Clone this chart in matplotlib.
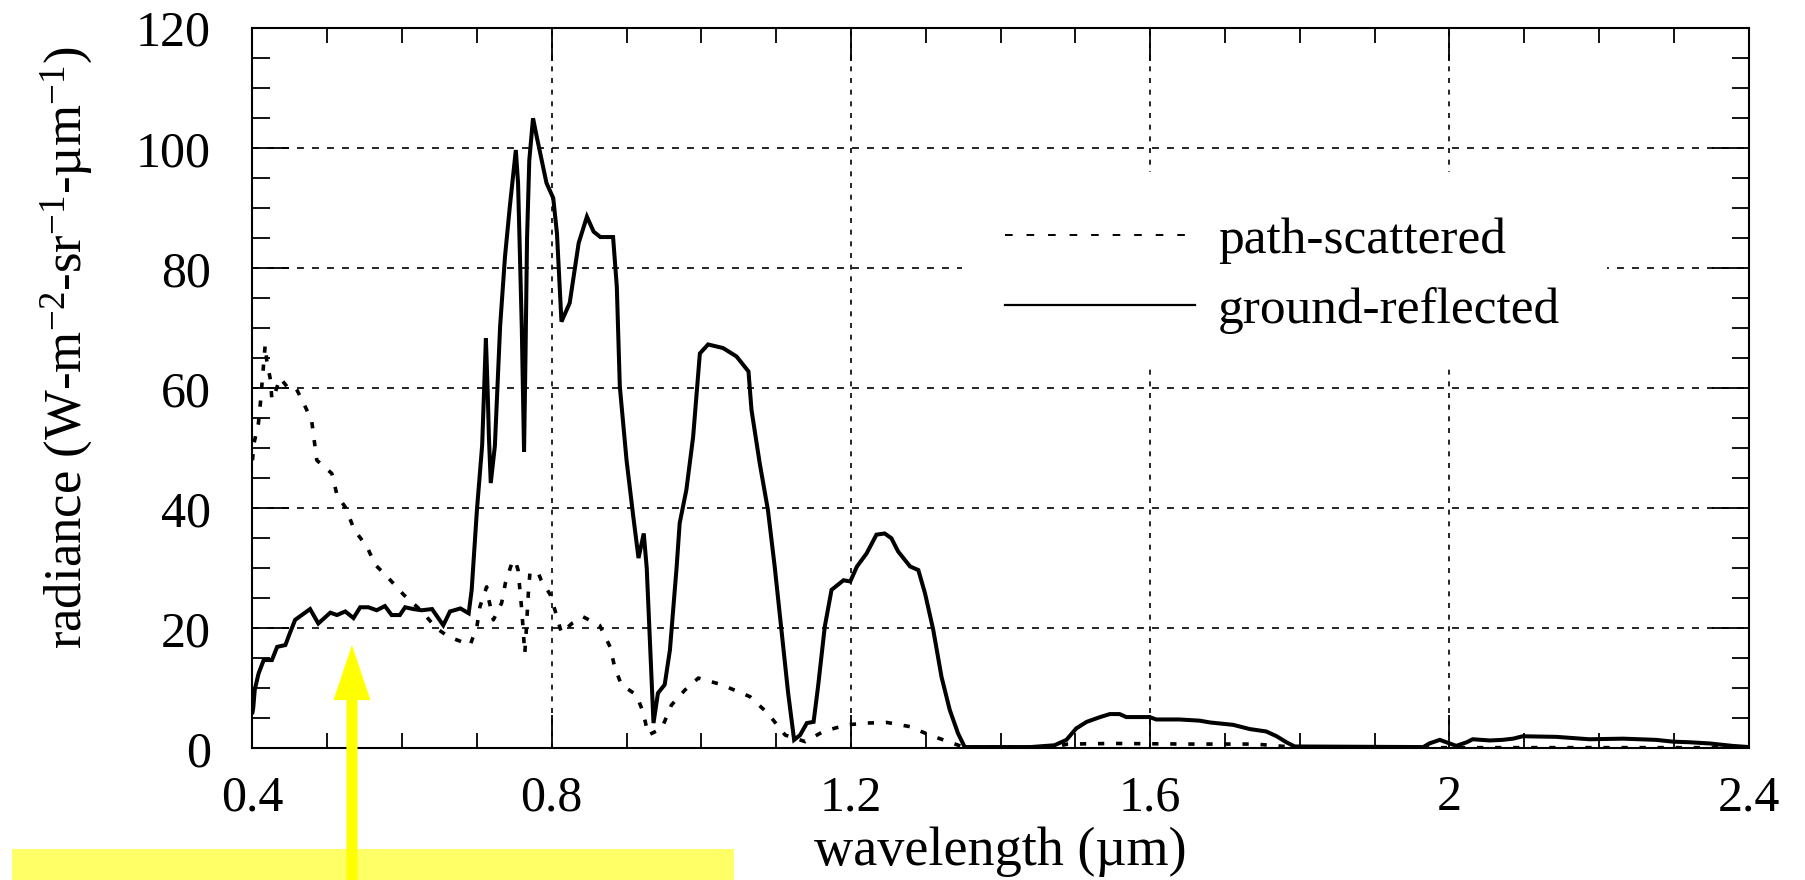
import matplotlib
matplotlib.use('Agg')
import matplotlib.pyplot as plt
from matplotlib.patches import Rectangle
from matplotlib.ticker import MultipleLocator, FixedLocator, FixedFormatter

plt.rcParams['font.family'] = ['Liberation Serif', 'DejaVu Serif']
plt.rcParams['mathtext.fontset'] = 'custom'
plt.rcParams['mathtext.rm'] = 'Liberation Serif'
plt.rcParams['mathtext.it'] = 'Liberation Serif:italic'
plt.rcParams['lines.scale_dashes'] = False

# ground-reflected radiance (solid line)
wl_ground = [0.400, 0.401, 0.403, 0.408, 0.415, 0.426, 0.433, 0.444, 0.450, 0.457,
             0.466, 0.477, 0.488, 0.504, 0.513, 0.524, 0.535, 0.544, 0.555, 0.566,
             0.577, 0.586, 0.597, 0.604, 0.615, 0.626, 0.640, 0.655, 0.664, 0.678,
             0.689, 0.693, 0.700, 0.707, 0.712, 0.7145, 0.716, 0.7185, 0.724, 0.731,
             0.7375, 0.744, 0.752, 0.755, 0.760, 0.763, 0.765, 0.767, 0.770, 0.775,
             0.780, 0.793, 0.802, 0.807, 0.813, 0.824, 0.836, 0.847, 0.856, 0.865,
             0.882, 0.887, 0.891, 0.900, 0.909, 0.916, 0.923, 0.927, 0.936, 0.942,
             0.951, 0.958, 0.967, 0.971, 0.980, 0.989, 0.998, 1.009, 1.029, 1.047,
             1.063, 1.067, 1.078, 1.089, 1.098, 1.107, 1.116, 1.124, 1.132, 1.141,
             1.150, 1.156, 1.165, 1.174, 1.190, 1.199, 1.208, 1.221, 1.234, 1.245,
             1.254, 1.263, 1.279, 1.290, 1.299, 1.310, 1.321, 1.332, 1.343, 1.352,
             1.440, 1.472, 1.488, 1.501, 1.515, 1.533, 1.546, 1.559, 1.568, 1.599,
             1.608, 1.639, 1.666, 1.680, 1.711, 1.733, 1.755, 1.769, 1.782, 1.793,
             1.965, 1.973, 1.987, 1.998, 2.009, 2.023, 2.031, 2.054, 2.071, 2.085,
             2.098, 2.143, 2.187, 2.232, 2.276, 2.299, 2.321, 2.348, 2.378, 2.400]
rad_ground = [6.0, 6.7, 9.7, 12.4, 14.7, 14.7, 16.9, 17.2, 19.2, 21.4,
              22.2, 23.2, 20.8, 22.6, 22.2, 22.8, 21.7, 23.5, 23.5, 23.0,
              23.7, 22.2, 22.2, 23.5, 23.2, 23.0, 23.2, 20.5, 22.8, 23.3,
              22.5, 26.4, 39.7, 50.5, 68.3, 59.0, 52.0, 44.2, 50.4, 70.3,
              81.9, 90.3, 99.7, 94.2, 70.0, 49.4, 66.0, 85.0, 98.0, 105.0,
              101.9, 94.2, 91.7, 85.8, 71.1, 74.2, 84.2, 88.6, 86.1, 85.2,
              85.2, 76.9, 60.3, 48.0, 38.6, 31.7, 35.8, 30.0, 4.2, 9.2,
              10.6, 16.4, 30.3, 37.5, 43.1, 51.9, 65.8, 67.3, 66.7, 65.3,
              62.8, 56.4, 47.5, 39.7, 30.3, 19.7, 9.2, 1.4, 2.2, 4.2,
              4.4, 10.3, 20.3, 26.4, 28.0, 27.8, 30.3, 32.5, 35.6, 35.8,
              35.0, 32.8, 30.3, 29.7, 25.8, 19.7, 11.9, 6.4, 2.5, 0.2,
              0.2, 0.5, 1.4, 3.3, 4.4, 5.2, 5.7, 5.7, 5.2, 5.2,
              4.8, 4.8, 4.6, 4.3, 3.9, 3.2, 2.8, 2.0, 1.0, 0.3,
              0.2, 0.8, 1.4, 0.9, 0.4, 1.0, 1.5, 1.3, 1.4, 1.6,
              2.0, 1.9, 1.5, 1.6, 1.4, 1.1, 1.0, 0.8, 0.4, 0.2]

# path-scattered radiance (dashed line)
wl_path = [0.400, 0.402, 0.408, 0.411, 0.415, 0.417, 0.419, 0.424, 0.426, 0.430,
           0.437, 0.446, 0.457, 0.466, 0.479, 0.486, 0.506, 0.513, 0.525, 0.536,
           0.553, 0.564, 0.580, 0.602, 0.625, 0.646, 0.662, 0.691, 0.700, 0.704,
           0.713, 0.716, 0.722, 0.733, 0.738, 0.746, 0.751, 0.755, 0.760, 0.764,
           0.766, 0.769, 0.771, 0.782, 0.786, 0.798, 0.807, 0.813, 0.827, 0.842,
           0.864, 0.878, 0.884, 0.893, 0.913, 0.922, 0.929, 0.947, 0.960, 0.978,
           0.996, 1.027, 1.065, 1.089, 1.112, 1.139, 1.163, 1.194, 1.221, 1.248,
           1.279, 1.305, 1.337, 1.350, 1.470, 1.490, 1.550, 1.650, 1.740, 1.780,
           1.800, 2.400]
rad_path = [48.0, 50.8, 54.2, 58.1, 64.2, 67.2, 64.7, 61.4, 58.1, 59.2,
            61.7, 60.3, 60.3, 58.1, 54.7, 48.0, 45.8, 42.2, 40.0, 36.4,
            33.6, 30.6, 28.6, 25.6, 23.0, 20.0, 18.6, 17.2, 20.3, 23.6,
            26.9, 24.7, 21.4, 24.2, 27.5, 30.6, 31.4, 29.7, 23.0, 15.8,
            19.7, 26.4, 29.4, 29.2, 28.0, 25.6, 21.9, 19.2, 20.8, 21.9,
            20.5, 16.9, 13.6, 10.6, 8.9, 6.1, 2.2, 3.3, 7.2, 9.7,
            11.7, 10.6, 8.6, 5.8, 2.2, 1.1, 2.8, 3.9, 4.2, 4.3,
            3.6, 2.2, 0.8, 0.2, 0.2, 0.7, 0.8, 0.7, 0.7, 0.3,
            0.1, 0.1]

x_ticks = [0.4, 0.8, 1.2, 1.6, 2.0, 2.4]
x_tick_labels = ['0.4', '0.8', '1.2', '1.6', '2', '2.4']
y_ticks = [0, 20, 40, 60, 80, 100, 120]

arrow_wl = 0.533     # wavelength the yellow arrow points at
arrow_tip = 17.2

fig = plt.figure(figsize=(18.06, 8.8), dpi=100)
ax = fig.add_axes([0.1398, 0.1497, 0.8285, 0.8182])

ax.plot(wl_path, rad_path, color='black', lw=2.6, ls=(0, (4.5, 8.5)),
        label='path-scattered', zorder=3)
ax.plot(wl_ground, rad_ground, color='black', lw=2.9, solid_joinstyle='miter',
        label='ground-reflected', zorder=3)

ax.set_xlim(0.4, 2.4)
ax.set_ylim(0, 120)
ax.xaxis.set_major_locator(FixedLocator(x_ticks))
ax.xaxis.set_major_formatter(FixedFormatter(x_tick_labels))
ax.xaxis.set_minor_locator(MultipleLocator(0.1))
ax.yaxis.set_major_locator(FixedLocator(y_ticks))
ax.yaxis.set_minor_locator(MultipleLocator(5))

ax.tick_params(which='both', direction='in', top=True, right=True,
               width=1.3, color='black', labelsize=36)
ax.tick_params(axis='x', which='major', length=23.8, pad=19)
ax.tick_params(axis='x', which='minor', length=10.8)
ax.tick_params(axis='y', which='major', length=26.6, pad=30)
ax.tick_params(axis='y', which='minor', length=12.6)
for s in ax.spines.values():
    s.set_linewidth(1.5)

ax.grid(axis='y', which='major', color='black', lw=1.2, ls=(0, (5.0, 5.8)))
ax.grid(axis='x', which='major', color='black', lw=1.2, ls=(0, (3.6, 4.8)))

# white box behind the legend hides the grid there
ax.add_patch(Rectangle((0.4742, 0.530), 0.4308, 0.2704, transform=ax.transAxes,
                       facecolor='white', edgecolor='none', zorder=1.8))

leg = ax.legend(loc='upper left', bbox_to_anchor=(0.5029, 0.738), frameon=False,
                fontsize=37, handlelength=3.7, handletextpad=0.45,
                labelspacing=0.45, borderpad=0, borderaxespad=0)
leg.set_zorder(5)
lines = leg.get_lines()
lines[0].set_linewidth(1.4)
lines[0].set_linestyle((0, (5.5, 10.0)))
lines[1].set_linewidth(1.6)

ax.set_xlabel('wavelength (µm)', fontsize=39, labelpad=4)
ax.set_ylabel(r'radiance (W-m$^{\mathrm{-2}}$-sr$^{\mathrm{-1}}$-µm$^{\mathrm{-1}}$)',
              fontsize=38)
ax.yaxis.set_label_coords(-0.1052, 0.556)

# yellow highlight bar and arrow
fig.add_artist(Rectangle((0.0064, 0.0), 0.4, 0.0352, transform=fig.transFigure,
                         facecolor='#ffff66', edgecolor='none', zorder=-1))
ax.annotate('', xy=(arrow_wl, arrow_tip), xycoords='data',
            xytext=(arrow_wl, 0.0), textcoords=('data', 'figure fraction'),
            arrowprops=dict(arrowstyle='simple,head_length=3.96,head_width=2.66,tail_width=0.8',
                            mutation_scale=10, color='#ffff00', lw=0,
                            shrinkA=0, shrinkB=0),
            annotation_clip=False)

fig.savefig('out.png', dpi=100)
